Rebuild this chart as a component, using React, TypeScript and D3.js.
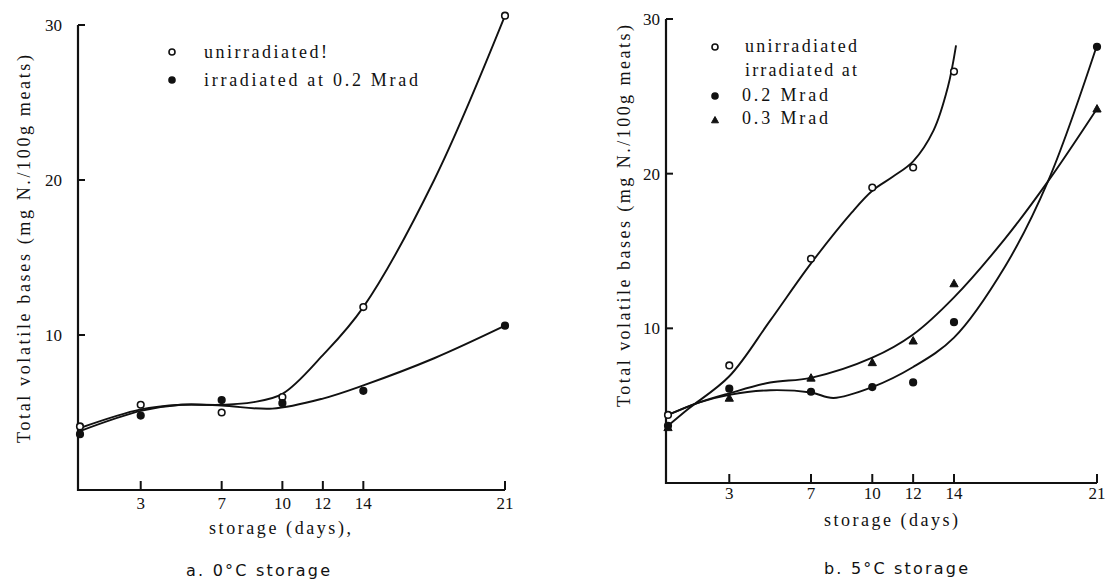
import * as d3 from "d3";

type Pt = [number, number];

const DAY_TICKS = [3, 7, 10, 12, 14, 21];
const VALUE_TICKS = [10, 20, 30];

// a. 0°C storage – measured points
const coldUnirrPts: Pt[] = [[0, 4.1], [3, 5.5], [7, 5.0], [10, 6.0], [14, 11.8], [21, 30.6]];
const coldIrrPts: Pt[] = [[0, 3.6], [3, 4.8], [7, 5.8], [10, 5.6], [14, 6.4], [21, 10.6]];
// a. fitted curves
const coldUnirrFit: Pt[] = [[0, 4.0], [3, 5.2], [5, 5.5], [7, 5.5], [8.5, 5.65], [10, 6.2], [12, 8.7], [14, 11.8], [17.5, 20.0], [21, 30.6]];
const coldIrrFit: Pt[] = [[0, 3.8], [3, 5.1], [5, 5.5], [7, 5.45], [9.5, 5.25], [12, 5.9], [14, 6.75], [17.5, 8.5], [21, 10.6]];

// b. 5°C storage – measured points
const warmUnirrPts: Pt[] = [[0, 4.4], [3, 7.6], [7, 14.5], [10, 19.1], [12, 20.4], [14, 26.6]];
const warm02Pts: Pt[] = [[0, 3.7], [3, 6.1], [7, 5.9], [10, 6.2], [12, 6.5], [14, 10.4], [21, 28.2]];
const warm03Pts: Pt[] = [[0, 3.6], [3, 5.5], [7, 6.8], [10, 7.8], [12, 9.2], [14, 12.9], [21, 24.2]];
// b. fitted curves
const warmUnirrFit: Pt[] = [[0, 3.7], [1, 4.8], [3, 6.9], [5, 10.5], [7, 14.2], [9, 17.5], [10, 18.9], [11, 19.8], [12, 20.8], [13, 22.8], [13.7, 25.6], [14.1, 28.3]];
const warm02Fit: Pt[] = [[0, 4.4], [1.5, 5.2], [3, 5.7], [5, 6.0], [7, 5.85], [8.1, 5.5], [10, 6.2], [12, 7.5], [14, 9.4], [16.5, 14.0], [18.6, 19.5], [21, 28.3]];
const warm03Fit: Pt[] = [[0, 4.4], [1.5, 5.2], [3, 5.8], [5, 6.5], [7, 6.8], [10, 8.1], [12, 9.6], [14, 12.0], [16.5, 15.8], [18.6, 19.5], [21, 24.2]];

const SERIF = "Liberation Serif, Times New Roman, Times, DejaVu Serif, Noto Serif, serif";
const SANS = "DejaVu Sans, Liberation Sans, sans-serif";
const INK = "#111";

type Marker = "open" | "filled" | "triangle";

function Mark({ x, y, kind, r = 3.3 }: { x: number; y: number; kind: Marker; r?: number }) {
  if (kind === "triangle") {
    const s = r * 1.25;
    return (
      <path
        d={`M${x},${y - s}L${x + s},${y + s * 0.8}L${x - s},${y + s * 0.8}Z`}
        fill={INK}
        stroke={INK}
        strokeWidth={1}
      />
    );
  }
  return (
    <circle
      cx={x}
      cy={y}
      r={r}
      fill={kind === "filled" ? INK : "#fff"}
      stroke={INK}
      strokeWidth={1.6}
    />
  );
}

type Series = { pts: Pt[]; fit: Pt[]; kind: Marker };

function Panel({
  xRange,
  yRange,
  series,
  yLabelX,
  yLabelSpan,
  tickLabelEnd,
  xTickLabelY,
  xLabel,
  xLabelX,
  xLabelY,
  xLabelLen,
  caption,
  captionX,
  captionY,
}: {
  xRange: [number, number];
  yRange: [number, number];
  series: Series[];
  yLabelX: number;
  yLabelSpan: [number, number];
  tickLabelEnd: number;
  xTickLabelY: number;
  xLabel: string;
  xLabelX: number;
  xLabelY: number;
  xLabelLen: number;
  caption: string;
  captionX: number;
  captionY: number;
}) {
  const x = d3.scaleLinear().domain([0, 21]).range(xRange);
  const y = d3.scaleLinear().domain([0, 30]).range(yRange);
  const axisX = x(0) - 2;
  const line = d3
    .line<Pt>()
    .x((d) => x(d[0]))
    .y((d) => y(d[1]))
    .curve(d3.curveCatmullRom.alpha(0.5));

  const yMid = (yLabelSpan[0] + yLabelSpan[1]) / 2;
  const yLen = yLabelSpan[1] - yLabelSpan[0];

  return (
    <g>
      {/* axes */}
      <path
        d={`M${axisX},${y(30)}L${axisX},${y(0)}L${x(21)},${y(0)}`}
        fill="none"
        stroke={INK}
        strokeWidth={2.2}
      />
      {VALUE_TICKS.map((v) => (
        <g key={v}>
          <line x1={axisX} x2={axisX + 7} y1={y(v)} y2={y(v)} stroke={INK} strokeWidth={2} />
          <text
            x={tickLabelEnd}
            y={y(v) + 6}
            textAnchor="end"
            style={{ fontFamily: SERIF, fontSize: 17 }}
            fill={INK}
          >
            {v}
          </text>
        </g>
      ))}
      {DAY_TICKS.map((d) => (
        <g key={d}>
          <line x1={x(d)} x2={x(d)} y1={y(0)} y2={y(0) - 9} stroke={INK} strokeWidth={2} />
          <text
            x={x(d)}
            y={xTickLabelY}
            textAnchor="middle"
            style={{ fontFamily: SERIF, fontSize: 17 }}
            fill={INK}
          >
            {d}
          </text>
        </g>
      ))}

      {/* curves */}
      {series.map((s, i) => (
        <path key={i} d={line(s.fit) ?? ""} fill="none" stroke={INK} strokeWidth={1.9} />
      ))}
      {series.map((s, i) =>
        s.pts.map((p, j) => <Mark key={`${i}-${j}`} x={x(p[0])} y={y(p[1])} kind={s.kind} />)
      )}

      {/* labels */}
      <text
        transform={`translate(${yLabelX},${yMid}) rotate(-90)`}
        textAnchor="middle"
        style={{ fontFamily: SERIF, fontSize: 18 }}
        fill={INK}
        textLength={yLen}
        lengthAdjust="spacing"
      >
        Total volatile bases (mg N./100g meats)
      </text>
      <text
        x={xLabelX}
        y={xLabelY}
        style={{ fontFamily: SERIF, fontSize: 18 }}
        fill={INK}
        textLength={xLabelLen}
        lengthAdjust="spacing"
      >
        {xLabel}
      </text>
      <text
        x={captionX}
        y={captionY}
        style={{ fontFamily: SANS, fontSize: 16 }}
        fill={INK}
        textLength={144}
        lengthAdjust="spacing"
      >
        {caption}
      </text>
    </g>
  );
}

function LegendText({ x, y, len, children }: { x: number; y: number; len: number; children: string }) {
  return (
    <text
      x={x}
      y={y}
      style={{ fontFamily: SERIF, fontSize: 18 }}
      fill={INK}
      textLength={len}
      lengthAdjust="spacing"
    >
      {children}
    </text>
  );
}

export default function App() {
  return (
    <svg
      width={1108}
      height={579}
      style={{ position: "absolute", left: 0, top: 0, background: "#fff" }}
    >
      <rect width={1108} height={579} fill="#fff" />

      <Panel
        xRange={[80, 505]}
        yRange={[490, 25]}
        series={[
          { pts: coldUnirrPts, fit: coldUnirrFit, kind: "open" },
          { pts: coldIrrPts, fit: coldIrrFit, kind: "filled" },
        ]}
        yLabelX={30}
        yLabelSpan={[55, 443]}
        tickLabelEnd={62}
        xTickLabelY={509}
        xLabel="storage (days),"
        xLabelX={209}
        xLabelY={534}
        xLabelLen={142}
        caption="a. 0°C storage"
        captionX={186}
        captionY={576}
      />
      <Mark x={172} y={52} kind="open" r={3} />
      <LegendText x={204} y={58} len={123}>unirradiated!</LegendText>
      <Mark x={172} y={80} kind="filled" r={3} />
      <LegendText x={204} y={86} len={214}>irradiated at 0.2 Mrad</LegendText>

      <Panel
        xRange={[668, 1097]}
        yRange={[483, 19]}
        series={[
          { pts: warmUnirrPts, fit: warmUnirrFit, kind: "open" },
          { pts: warm02Pts, fit: warm02Fit, kind: "filled" },
          { pts: warm03Pts, fit: warm03Fit, kind: "triangle" },
        ]}
        yLabelX={630}
        yLabelSpan={[25, 407]}
        tickLabelEnd={660}
        xTickLabelY={499}
        xLabel="storage (days)"
        xLabelX={824}
        xLabelY={526}
        xLabelLen={134}
        caption="b. 5°C storage"
        captionX={824}
        captionY={574}
      />
      <Mark x={715} y={47} kind="open" r={3} />
      <LegendText x={745} y={52} len={112}>unirradiated</LegendText>
      <LegendText x={745} y={76} len={112}>irradiated at</LegendText>
      <Mark x={715} y={96} kind="filled" r={3} />
      <LegendText x={742} y={101} len={86}>0.2 Mrad</LegendText>
      <Mark x={715} y={120} kind="triangle" r={2.8} />
      <LegendText x={742} y={124} len={86}>0.3 Mrad</LegendText>
    </svg>
  );
}
